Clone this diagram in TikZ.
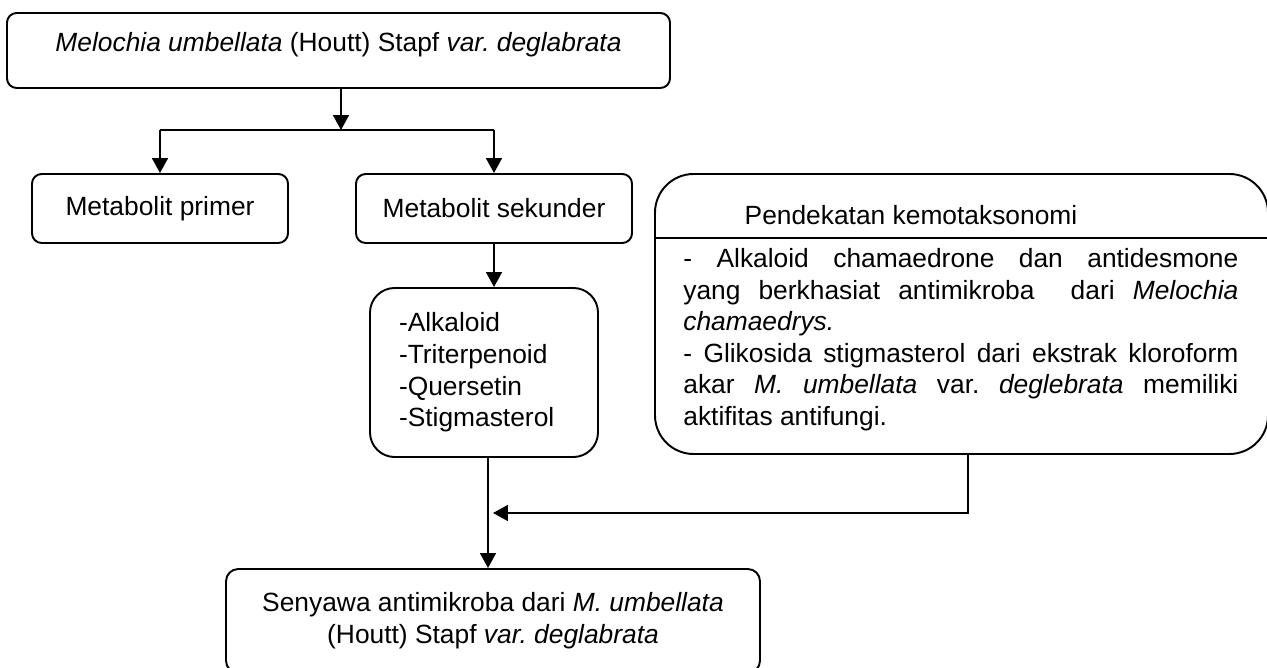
\documentclass[tikz,border=0pt]{standalone}
\usepackage{fontspec}
\setmainfont{Liberation Sans}
\usetikzlibrary{arrows.meta,positioning}

\begin{document}
\frenchspacing
\begin{tikzpicture}[x=0.2mm, y=-0.2mm, font=\fontsize{15}{18}\selectfont,
	box/.style={draw, line width=1.1pt, rounded corners=5.5pt, inner sep=0pt, align=center},
	arr/.style={line width=1.2pt, -{Triangle[length=8.5pt,width=9pt]}},
	line/.style={line width=1.2pt}]
	\useasboundingbox (0,0) rectangle (1267,668);
	
	% the plant
	\node[box, minimum width=13.26cm, minimum height=1.5cm, text depth=0.33cm] (plant) at (338.5,50.5)
	{\textit{Melochia umbellata} (Houtt) Stapf \textit{var. deglabrata}};
	
	% primary and secondary metabolites
	\node[box, minimum width=5.12cm, minimum height=1.38cm] (primer) at (160,208.5) {Metabolit primer};
	\node[box, minimum width=5.52cm, minimum height=1.38cm] (sekunder) at (494,208.5) {Metabolit sekunder};
	
	% list of compounds
	\node[box, rounded corners=14pt, minimum width=4.56cm, minimum height=3.38cm,
	text width=3.4cm, align=left] (senyawa) at (484,372.5)
	{-Alkaloid\\-Triterpenoid\\-Quersetin\\-Stigmasterol};
	
	% chemotaxonomy box, title and text
	\node[draw, line width=1.1pt, rounded corners=22pt, minimum width=12.26cm, minimum height=5.6cm] (kemo) at (961.5,314) {};
	\node (judul) at (911,215) {Pendekatan kemotaksonomi};
	\coordinate (garis) at (0,238);
	\draw[line] (kemo.west |- garis) -- (kemo.east |- garis);
	\node[anchor=north west, inner sep=0pt, text width=11.1cm, align=justify] (isi) at (683,248)
	{- Alkaloid chamaedrone dan antidesmone yang berkhasiat antimikroba\ \ dari \textit{Melochia chamaedrys.}\\
	- Glikosida stigmasterol dari ekstrak kloroform akar \textit{M. umbellata} var. \textit{deglebrata} memiliki aktifitas antifungi.};
	
	% result
	\node[box, rounded corners=7pt, minimum width=10.68cm, minimum height=2.08cm] (hasil) at (493,621)
	{Senyawa antimikroba dari \textit{M. umbellata}\\(Houtt) Stapf \textit{var. deglabrata}};
	
	% branch below the plant
	\coordinate (cabang) at (341,130);
	\draw[arr] (plant.south -| cabang) -- (cabang);
	\draw[line] (primer.north |- cabang) -- (sekunder.north |- cabang);
	\draw[arr] (primer.north |- cabang) -- (primer.north);
	\draw[arr] (sekunder.north |- cabang) -- (sekunder.north);
	
	% secondary metabolites to compounds
	\draw[arr] (sekunder.south) -- (sekunder.south |- senyawa.north);
	
	% compounds and chemotaxonomy to result
	\coordinate (temu) at (488,513);
	\coordinate (kemobawah) at (968,0);
	\draw[arr] (senyawa.south -| temu) -- (hasil.north -| temu);
	\draw[arr] (kemo.south -| kemobawah) |- ([xshift=1mm]temu);
\end{tikzpicture}
\end{document}
